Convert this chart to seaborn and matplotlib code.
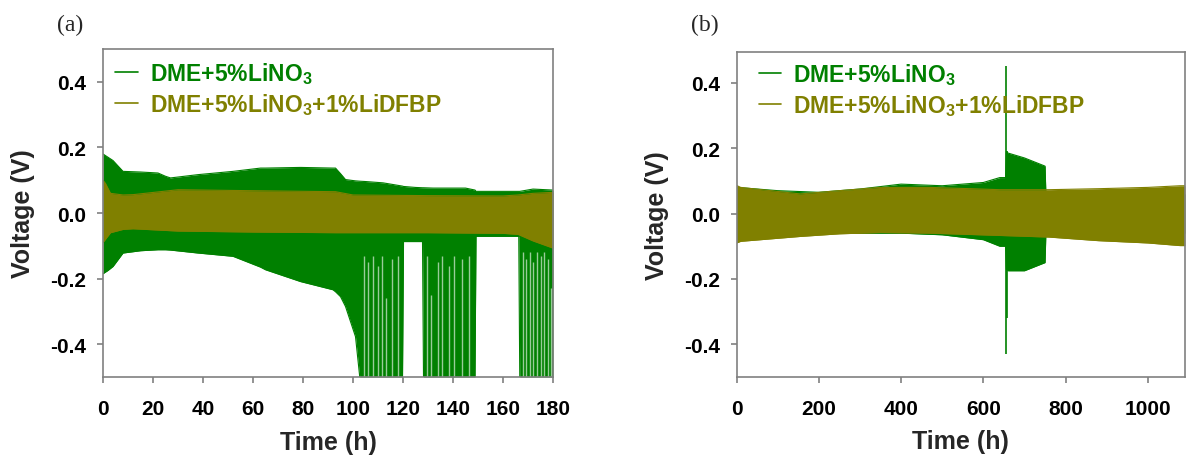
import matplotlib
matplotlib.use("Agg")
import matplotlib.pyplot as plt
from matplotlib.lines import Line2D
import seaborn as sns

# ---------------- data ----------------
labels = ["DME+5%LiNO$_\\mathbf{3}$", "DME+5%LiNO$_\\mathbf{3}$+1%LiDFBP"]
green = "#008000"
olive = "#808000"

# (a) DME+5%LiNO3 voltage envelope (V) vs time (h)
t_a_g = [0, 2, 4, 8, 15, 22, 25, 27, 38, 52, 63, 65, 79, 92, 93, 95, 97, 101,
         102.7, 105, 112, 119.8, 120.2, 125, 127.8, 128.2, 132, 145, 148.8,
         149.2, 160, 166.3, 166.7, 172, 180]
up_a_g = [0.18, 0.17, 0.16, 0.127, 0.125, 0.122, 0.112, 0.107, 0.117, 0.127,
          0.137, 0.137, 0.139, 0.137, 0.137, 0.12, 0.102, 0.098, 0.097, 0.096,
          0.092, 0.082, 0.081, 0.078, 0.077, 0.077, 0.076, 0.076, 0.07, 0.066,
          0.066, 0.066, 0.066, 0.073, 0.07]
lo_a_g = [-0.185, -0.175, -0.163, -0.122, -0.115, -0.112, -0.112, -0.113,
          -0.122, -0.132, -0.165, -0.173, -0.209, -0.234, -0.24, -0.255,
          -0.285, -0.377, -0.5, -0.5, -0.5, -0.5, -0.087, -0.087, -0.087,
          -0.5, -0.5, -0.5, -0.5, -0.071, -0.071, -0.071, -0.5, -0.5, -0.5]
# light gaps between the short-circuit spikes
gap_t_a = [104.2, 105.9, 107.9, 109.8, 111.5, 113.3, 115.6, 118.0,
           129.5, 131.0, 133.8, 135.6, 138.2, 140.2, 143.5, 146.5,
           167.8, 169.2, 170.6, 172.0, 173.5, 175.0, 176.5, 178.0, 179.3]
gap_top_a = [-0.13, -0.15, -0.13, -0.16, -0.13, -0.26, -0.14, -0.13,
             -0.13, -0.25, -0.15, -0.13, -0.16, -0.13, -0.14, -0.13,
             -0.12, -0.14, -0.12, -0.15, -0.12, -0.13, -0.12, -0.14, -0.23]

# (a) DME+5%LiNO3+1%LiDFBP
t_a_o = [0, 1, 3, 8, 12, 30, 60, 93, 100, 130, 160, 166, 172, 180]
up_a_o = [0.10, 0.09, 0.06, 0.055, 0.056, 0.071, 0.068, 0.065, 0.055, 0.053,
          0.052, 0.055, 0.06, 0.063]
lo_a_o = [-0.09, -0.08, -0.06, -0.05, -0.048, -0.055, -0.058, -0.06, -0.06,
          -0.06, -0.062, -0.065, -0.085, -0.107]

# (b) DME+5%LiNO3
t_b_g = [0, 100, 200, 300, 400, 500, 600, 640, 654, 656, 660, 700, 750, 752, 1090]
up_b_g = [0.08, 0.07, 0.065, 0.075, 0.09, 0.085, 0.095, 0.11, 0.11, 0.19,
          0.185, 0.17, 0.145, 0.06, 0.06]
lo_b_g = [-0.08, -0.07, -0.06, -0.06, -0.06, -0.065, -0.08, -0.10, -0.10,
          -0.17, -0.175, -0.175, -0.15, -0.06, -0.06]
spike_t_b = [655, 657]
spike_top_b = [0.45, 0.19]
spike_bot_b = [-0.43, -0.32]

# (b) DME+5%LiNO3+1%LiDFBP
t_b_o = [0, 10, 155, 250, 350, 470, 640, 760, 880, 1000, 1078, 1090]
up_b_o = [0.086, 0.08, 0.06, 0.07, 0.08, 0.08, 0.073, 0.073, 0.076, 0.08,
          0.085, 0.085]
lo_b_o = [-0.09, -0.085, -0.07, -0.062, -0.058, -0.06, -0.067, -0.072,
          -0.083, -0.09, -0.098, -0.098]

# ---------------- style ----------------
sns.set_theme(style="ticks")
plt.rcParams["font.family"] = ["Liberation Sans", "DejaVu Sans"]
plt.rcParams["font.weight"] = "bold"
plt.rcParams["axes.unicode_minus"] = False
plt.rcParams["mathtext.fontset"] = "custom"
plt.rcParams["mathtext.bf"] = "Liberation Sans:bold"
plt.rcParams["mathtext.rm"] = "Liberation Sans:bold"

fig = plt.figure(figsize=(11.88, 4.64), dpi=100)
ax1 = fig.add_axes([0.0867, 0.1853, 0.3788, 0.7069])
ax2 = fig.add_axes([0.6200, 0.1853, 0.3774, 0.7011])


def band(ax, t, up, lo, color, z):
    ax.fill_between(t, lo, up, color=color, lw=0, zorder=z)
    sns.lineplot(x=t, y=up, ax=ax, color=color, lw=0.8, legend=False, zorder=z)
    sns.lineplot(x=t, y=lo, ax=ax, color=color, lw=0.8, legend=False, zorder=z)


band(ax1, t_a_g, up_a_g, lo_a_g, green, 1)
ax1.vlines(gap_t_a, -0.5, gap_top_a, color="white", lw=1.0, alpha=0.6, zorder=1.5)
band(ax1, t_a_o, up_a_o, lo_a_o, olive, 2)

band(ax2, t_b_g, up_b_g, lo_b_g, green, 1)
ax2.vlines(spike_t_b, spike_bot_b, spike_top_b, color=green, lw=1.2, zorder=1.5)
band(ax2, t_b_o, up_b_o, lo_b_o, olive, 2)

ax1.set_xlim(0, 180)
ax1.set_xticks(range(0, 181, 20))
ax1.set_ylim(-0.5, 0.5)
ax2.set_xlim(0, 1090)
ax2.set_xticks(range(0, 1001, 200))
ax2.set_ylim(-0.5, 0.495)

handles = [Line2D([], [], color=green, lw=1.2), Line2D([], [], color=olive, lw=1.2)]
for ax, lx, ly, tag, tx in [(ax1, 0.027, 0.965, "(a)", 0.059),
                            (ax2, 0.049, 0.97, "(b)", 0.593)]:
    ax.set_yticks([-0.4, -0.2, 0.0, 0.2, 0.4])
    ax.set_yticklabels(["-0.4", "-0.2", "0.0", "0.2", "0.4"])
    for s in ax.spines.values():
        s.set_color("#808080")
        s.set_linewidth(1.2)
    ax.tick_params(direction="out", length=4, width=1.2, color="#808080",
                   labelsize=15, labelcolor="black")
    ax.tick_params(axis="x", pad=12)
    ax.tick_params(axis="y", pad=8)
    for lab in ax.get_xticklabels() + ax.get_yticklabels():
        lab.set_fontweight("bold")
    ax.set_xlabel("Time (h)", fontsize=18, fontweight="bold")
    ax.set_ylabel("Voltage (V)", fontsize=18, fontweight="bold")
    ax.xaxis.set_label_coords(0.5, -0.16)
    ax.yaxis.set_label_coords(-0.15, 0.5)
    leg = ax.legend(handles, labels, loc="upper left", bbox_to_anchor=(lx, ly),
                    frameon=False, fontsize=16.5, handlelength=1.0,
                    handletextpad=0.5, labelspacing=0.2, borderaxespad=0,
                    borderpad=0, labelcolor="linecolor")
    for txt in leg.get_texts():
        txt.set_fontweight("bold")
    fig.text(tx, 0.946, tag, fontsize=17, family="Liberation Serif",
             fontweight="normal", ha="center", va="center")

fig.savefig("out.png", dpi=100, facecolor="white")
